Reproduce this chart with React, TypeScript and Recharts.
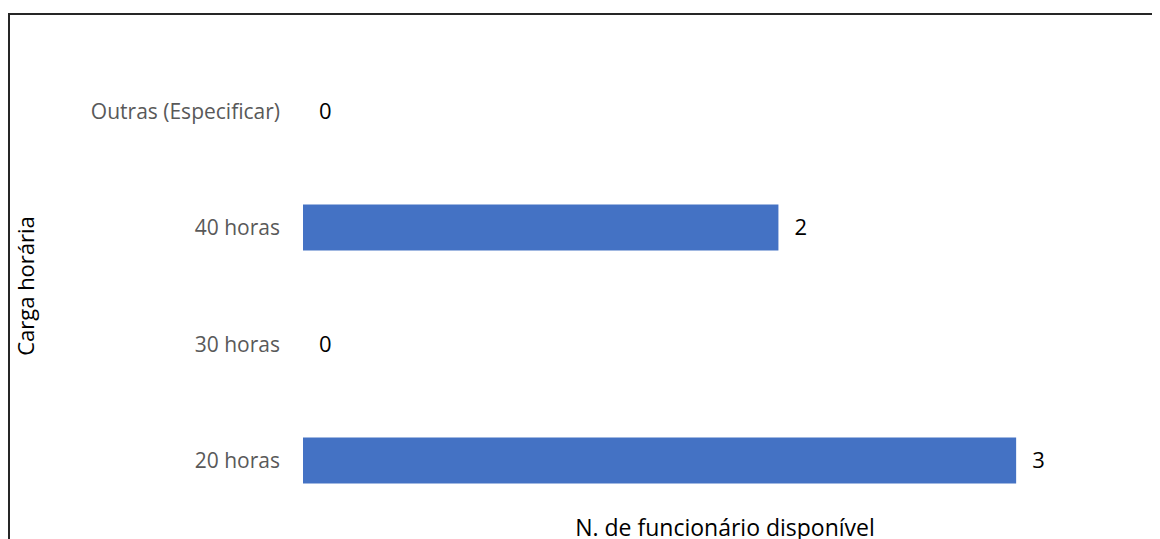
import { BarChart, Bar, XAxis, YAxis, LabelList } from 'recharts';

const categories = ['Outras (Especificar)', '40 horas', '30 horas', '20 horas'];
const funcionarios = [0, 2, 0, 3];

const chartData = categories.map((carga, i) => ({ carga, funcionarios: funcionarios[i] }));

export default function App() {
    return (
        <div
            style={{
                marginTop: 5,
                width: 1180,
                height: 560,
                border: '2px solid #262626',
                boxSizing: 'border-box',
                background: '#fff',
                fontFamily: '"Open Sans", sans-serif',
            }}
        >
            <BarChart
                width={1150}
                height={530}
                data={chartData}
                layout="vertical"
                margin={{ top: 38, right: 25, bottom: 0, left: 0 }}
            >
                <XAxis
                    type="number"
                    domain={[0, 3.5]}
                    axisLine={false}
                    tickLine={false}
                    tick={false}
                    height={26}
                    label={{
                        value: 'N. de funcionário disponível',
                        position: 'insideBottom',
                        offset: 9,
                        fill: '#000',
                        fontSize: 23,
                        dx: 6,
                    }}
                />
                <YAxis
                    type="category"
                    dataKey="carga"
                    width={293}
                    axisLine={false}
                    tickLine={false}
                    tickSize={0}
                    tickMargin={23}
                    tick={{ fill: '#595959', fontSize: 21 }}
                    label={{
                        value: 'Carga horária',
                        angle: -90,
                        position: 'insideLeft',
                        offset: 16,
                        fill: '#000',
                        fontSize: 22,
                        style: { textAnchor: 'middle' },
                    }}
                />
                <Bar
                    dataKey="funcionarios"
                    fill="#4472C4"
                    barSize={46}
                    minPointSize={0.001}
                    isAnimationActive={false}
                >
                    <LabelList dataKey="funcionarios" position="right" offset={16} fill="#000" fontSize={22} />
                </Bar>
            </BarChart>
        </div>
    );
}
